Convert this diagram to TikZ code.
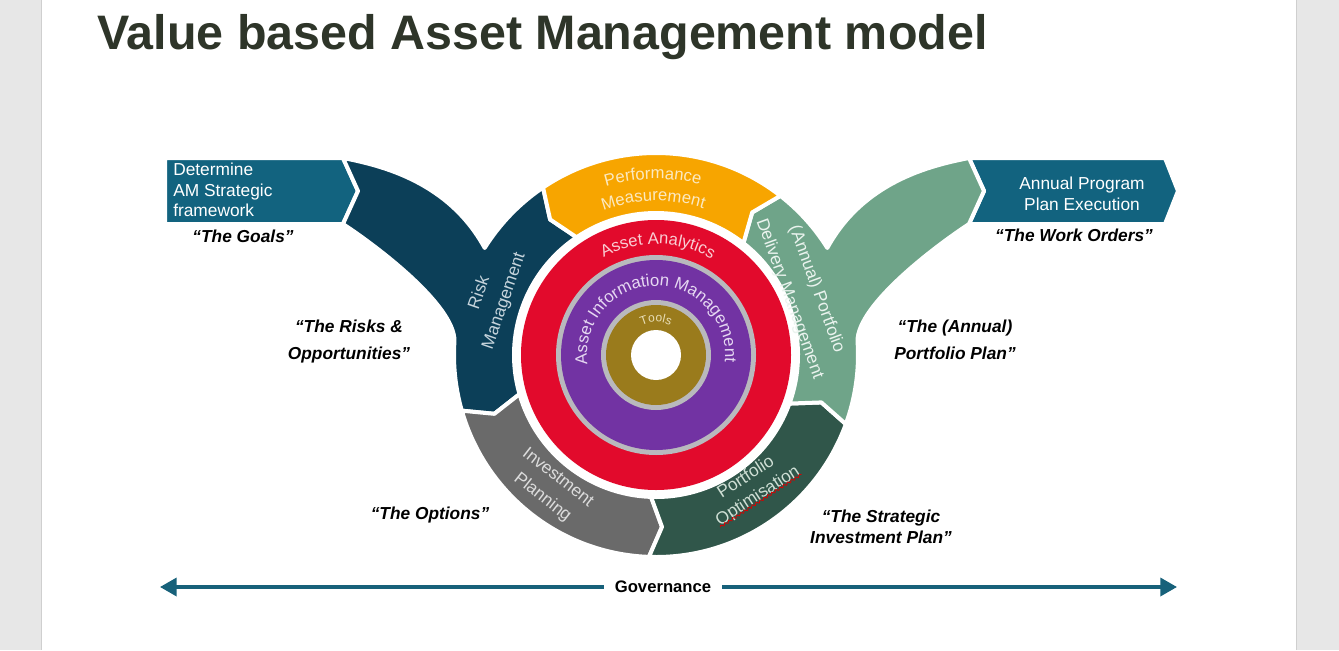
\documentclass[tikz,border=0pt]{standalone}
\usepackage{fontspec}
\setmainfont{Liberation Sans}
\usetikzlibrary{arrows.meta,decorations.text,decorations.pathmorphing,calc}
\definecolor{bgside}{HTML}{E7E7E7}
\definecolor{slideedge}{HTML}{CFCFCF}
\definecolor{titlec}{HTML}{2E3529}
\definecolor{boxblue}{HTML}{12637F}
\definecolor{navy}{HTML}{0C3F58}
\definecolor{orangeseg}{HTML}{F7A500}
\definecolor{lgreen}{HTML}{6FA489}
\definecolor{dgreen}{HTML}{30564A}
\definecolor{grayseg}{HTML}{6A6A6A}
\definecolor{redring}{HTML}{E20A2C}
\definecolor{purplering}{HTML}{7233A3}
\definecolor{ringgray}{HTML}{B9B9BD}
\definecolor{goldring}{HTML}{9A7B1C}
\definecolor{govc}{HTML}{17617A}
\definecolor{orangetxt}{HTML}{FCE9C0}
\definecolor{redtxt}{HTML}{F9CDD3}
\definecolor{purpletxt}{HTML}{E6D8F2}
\definecolor{goldtxt}{HTML}{E9DFB8}
\definecolor{navytxt}{HTML}{C6D4DC}
\definecolor{lgreentxt}{HTML}{EAF3EE}
\definecolor{graytxt}{HTML}{DCDCDC}
\definecolor{dgreentxt}{HTML}{CFDFD5}
\tikzset{
  seg/.style={draw=white, line width=3pt, line join=round},
  lab/.style={font=\fontsize{13}{20.25}\selectfont\bfseries\itshape, align=center, inner sep=0pt, text=black},
  boxtxt/.style={font=\fontsize{13}{15.5}\selectfont, text=white, inner sep=0pt},
  segtxt/.style={font=\fontsize{13}{19.5}\selectfont, align=center, inner sep=0pt},
  govline/.style={draw=govc, line width=2.6pt, -{Triangle[length=12.5pt, width=13.5pt]}},
  squiggle/.style={draw=red!85!black, line width=0.6pt, decorate, decoration={snake, amplitude=0.9pt, segment length=3.5pt}},
}
\begin{document}
\begin{tikzpicture}[x=0.75pt,y=0.75pt]
\useasboundingbox (0,0) rectangle (1339,-650);
\fill[bgside] (0,0) rectangle (1339,-650);
\fill[white] (41,0) rectangle (1296,-650);
\draw[slideedge, line width=0.75pt] (41,0) -- (41,-650) (1296,0) -- (1296,-650);

\node[anchor=base west, inner sep=0pt, font=\fontsize{36.3}{40}\selectfont\bfseries, text=titlec] (title) at (97,-49) {Value based Asset Management model};

\begin{scope}[shift={(656,-355)}]
  % side boxes
  \path[seg, fill=boxblue] (-491,197) -- (-313,197) -- (-298,164) -- (-313,131) -- (-491,131) -- cycle;
  \path[seg, fill=boxblue] (313,197) -- (509,197) -- (522,164) -- (509,131) -- (313,131) -- (328,164) -- cycle;
  % risk management (navy) with swoosh
  \path[seg, fill=navy] (-313,197) -- (-298,164) -- (-313,131)
    .. controls (-278,108) and (-201.5,50) .. (176:202)
    arc[start angle=176, end angle=196, radius=202]
    -- (200:172) -- (196:142)
    arc[start angle=196, end angle=124, radius=142]
    -- (128:172) -- (124:202)
    arc[start angle=124, end angle=148, radius=202]
    .. controls (-207.3,173) and (-273.8,189.4) .. (-313,197) -- cycle;
  % investment planning (gray)
  \path[seg, fill=grayseg] (196:202) arc[start angle=196, end angle=268, radius=202]
    -- (272:172) -- (268:142) arc[start angle=268, end angle=196, radius=142]
    -- (200:172) -- cycle;
  % portfolio optimisation (dark green)
  \path[seg, fill=dgreen] (268:202) arc[start angle=268, end angle=340, radius=202]
    -- (344:172) -- (340:142) arc[start angle=340, end angle=268, radius=142]
    -- (272:172) -- cycle;
  % delivery management (light green) with swoosh
  \path[seg, fill=lgreen] (344:172) -- (340:202)
    arc[start angle=340, end angle=364, radius=202]
    .. controls (201.5,50) and (278,108) .. (313,131)
    -- (328,164) -- (313,197)
    .. controls (273.8,189.4) and (207.3,173) .. (32:202)
    arc[start angle=32, end angle=52, radius=202]
    -- (56:172) -- (52:142)
    arc[start angle=52, end angle=-20, radius=142]
    -- cycle;
  % performance measurement (orange)
  \path[seg, fill=orangeseg] (52:202) arc[start angle=52, end angle=124, radius=202]
    -- (128:172) -- (124:142) arc[start angle=124, end angle=52, radius=142]
    -- (56:172) -- cycle;

  % inner rings
  \fill[redring] (0,0) circle[radius=135];
  \fill[ringgray] (0,0) circle[radius=100];
  \fill[purplering] (0,0) circle[radius=95];
  \fill[ringgray] (0,0) circle[radius=55];
  \fill[goldring] (0,0) circle[radius=50];
  \fill[white] (0,0) circle[radius=25];

  % curved texts
  \path[decorate, decoration={text along path, text align=center, text color=orangetxt,
     text={|\fontsize{12.5}{12.5}\selectfont|Performance}}]
     (150:176) arc[start angle=150, end angle=32, radius=176];
  \path[decorate, decoration={text along path, text align=center, text color=orangetxt,
     text={|\fontsize{12.5}{12.5}\selectfont|Measurement}}]
     (150:154) arc[start angle=150, end angle=32, radius=154];
  \path[decorate, decoration={text along path, text align=center, text color=redtxt,
     text={|\fontsize{12.5}{12.5}\selectfont|Asset Analytics}}]
     (149:111) arc[start angle=149, end angle=29, radius=111];
  \path[decorate, decoration={text along path, text align=center, text color=purpletxt,
     text={|\fontsize{12.6}{12.6}\selectfont|Asset Information Management}}]
     (200:69) arc[start angle=200, end angle=-18, radius=69];
  \path[decorate, decoration={text along path, text align=center, text color=goldtxt,
     text={|\fontsize{9}{9}\selectfont|Tools}}]
     (160:33) arc[start angle=160, end angle=20, radius=33];
\end{scope}

% box texts
\node[boxtxt, align=left, anchor=west] (det) at (173,-190) {Determine\\AM Strategic\\framework};
\node[boxtxt, align=center, font=\fontsize{13}{15.75}\selectfont] (ape) at (1082,-194) {Annual Program\\Plan Execution};

% segment texts
\node[segtxt, text=navytxt, rotate=71] (riskm) at (492,-297) {Risk\\Management};
\node[segtxt, text=lgreentxt, rotate=-70, font=\fontsize{13}{21.5}\selectfont] (apdm) at (803,-294) {(Annual) Portfolio\\Delivery Management};
\node[segtxt, text=graytxt, rotate=-38, font=\fontsize{13}{18.75}\selectfont] (invp) at (550,-488) {Investment\\Planning};
\node[segtxt, text=dgreentxt, rotate=33, font=\fontsize{13}{16.5}\selectfont] (pfo) at (752,-487) {Portfolio\\Optimisation};
\draw[squiggle] ($(pfo.south west)!0.08!(pfo.north west)$) -- ($(pfo.south east)!0.08!(pfo.north east)$);

% labels
\node[lab] (goals) at (243,-236) {“The Goals”};
\node[lab] (risks) at (349,-342) {“The Risks \&\\Opportunities”};
\node[lab] (options) at (430,-515) {“The Options”};
\node[lab, font=\fontsize{13}{15.75}\selectfont\bfseries\itshape] (strategic) at (881,-527) {“The Strategic\\Investment Plan”};
\node[lab] (annualplan) at (955,-340) {“The (Annual)\\Portfolio Plan”};
\node[lab] (workorders) at (1074,-235) {“The Work Orders”};

% governance
\coordinate (govL) at (160,-587);
\coordinate (govR) at (1177,-587);
\node[font=\fontsize{12.5}{12.5}\selectfont\bfseries, inner xsep=8pt, inner ysep=2pt] (gov) at (663,-587) {Governance};
\draw[govline] (gov.west) -- (govL);
\draw[govline] (gov.east) -- (govR);
\end{tikzpicture}
\end{document}
